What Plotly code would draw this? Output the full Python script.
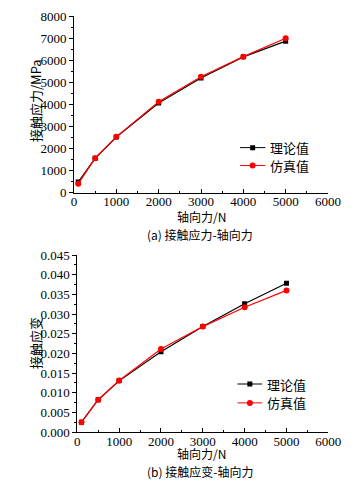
import plotly.graph_objects as go

W, H = 361, 487

force = [100, 500, 1000, 2000, 3000, 4000, 5000]
stress_theory = [480, 1560, 2520, 4060, 5190, 6150, 6860]
stress_sim = [400, 1560, 2530, 4120, 5250, 6160, 6990]
strain_theory = [0.0025, 0.0082, 0.0130, 0.0204, 0.0268, 0.0326, 0.0378]
strain_sim = [0.0025, 0.0082, 0.0131, 0.0211, 0.0268, 0.0317, 0.0360]

name_theory = "理论值"
name_sim = "仿真值"

x_ticks = [0, 1000, 2000, 3000, 4000, 5000, 6000]
y1_ticks = [0, 1000, 2000, 3000, 4000, 5000, 6000, 7000, 8000]
y2_ticks = [0.000, 0.005, 0.010, 0.015, 0.020, 0.025, 0.030, 0.035, 0.040, 0.045]

SERIF = "Liberation Serif, Times New Roman, serif"
CJK = "Noto Sans CJK SC"

fig = go.Figure()
for xa, ya, yt, ys in [("x", "y", stress_theory, stress_sim), ("x2", "y2", strain_theory, strain_sim)]:
    fig.add_trace(go.Scatter(x=force, y=yt, mode="lines+markers", name=name_theory,
                             line=dict(color="black", width=1.2),
                             marker=dict(symbol="square", size=5, color="black"),
                             xaxis=xa, yaxis=ya, showlegend=False))
    fig.add_trace(go.Scatter(x=force, y=ys, mode="lines+markers", name=name_sim,
                             line=dict(color="#ff0000", width=1.2),
                             marker=dict(symbol="circle", size=6, color="#ff0000"),
                             xaxis=xa, yaxis=ya, showlegend=False))

axis_common = dict(showline=True, linecolor="black", linewidth=1, showgrid=False, zeroline=False,
                   tickfont=dict(family=SERIF, size=13, color="black"), ticklen=4, tickcolor="black",
                   mirror=False, automargin=False)

fig.update_layout(
    width=W, height=H, margin=dict(l=0, r=0, t=0, b=0, pad=0),
    paper_bgcolor="white", plot_bgcolor="white", showlegend=False,
    xaxis=dict(domain=[74 / W, 328 / W], range=[0, 6000], tickvals=x_ticks, ticks="inside",
               minor=dict(dtick=500, ticks="inside", ticklen=2, tickcolor="black"),
               ticklabelstandoff=-3, anchor="y", **axis_common),
    yaxis=dict(domain=[1 - 192.7 / H, 1 - 16 / H], range=[0, 8000], tickvals=y1_ticks, ticks="outside",
               minor=dict(dtick=500, ticks="outside", ticklen=2, tickcolor="black"),
               anchor="x", **axis_common),
    xaxis2=dict(domain=[77.3 / W, 328.3 / W], range=[0, 6000], tickvals=x_ticks, ticks="inside",
                minor=dict(dtick=500, ticks="inside", ticklen=2, tickcolor="black"),
                ticklabelstandoff=-3, anchor="y2", **axis_common),
    yaxis2=dict(domain=[1 - 432 / H, 1 - 255 / H], range=[0, 0.045], tickvals=y2_ticks,
                ticktext=[f"{v:.3f}" for v in y2_ticks], ticks="outside",
                minor=dict(dtick=0.0025, ticks="outside", ticklen=2, tickcolor="black"),
                anchor="x2", **axis_common),
)

def add_legend(xref, yref, y_vals, x0, x1):
    xm = (x0 + x1) / 2
    for yv, col, sym, sz, label in [(y_vals[0], "black", "square", 5, name_theory),
                                    (y_vals[1], "#ff0000", "circle", 6, name_sim)]:
        fig.add_trace(go.Scatter(x=[x0, x1], y=[yv, yv], mode="lines",
                                 line=dict(color=col, width=1), xaxis=xref, yaxis=yref,
                                 showlegend=False, hoverinfo="skip"))
        fig.add_trace(go.Scatter(x=[xm], y=[yv], mode="markers",
                                 marker=dict(symbol=sym, size=sz, color=col), xaxis=xref, yaxis=yref,
                                 showlegend=False, hoverinfo="skip"))
        fig.add_annotation(x=x1 + 60, y=yv, xref=xref, yref=yref, text=label, showarrow=False,
                           xanchor="left", yanchor="middle",
                           font=dict(family=CJK, size=13, color="black"))

add_legend("x", "y", [2040, 1230], 3920, 4520)
add_legend("x2", "y2", [0.0122, 0.0074], 3830, 4420)

def label(xp, yp, text, size=13, angle=0):
    fig.add_annotation(x=xp / W, y=1 - yp / H, xref="paper", yref="paper", text=text,
                       showarrow=False, xanchor="center", yanchor="middle", textangle=angle,
                       borderpad=0, font=dict(family=CJK, size=size, color="black"))

label(201, 216.5, "轴向力/N", 12)
label(200, 234, "(a) 接触应力-轴向力", 12)
label(201, 453.5, "轴向力/N", 12)
label(200, 471, "(b) 接触应变-轴向力", 12)
label(35, 101, "接触应力/MPa", 13, -90)
label(35, 343, "接触应变", 13, -90)

fig.write_html("out.html", config={"displayModeBar": False},
               post_script="document.body.style.margin='0';document.body.style.overflow='hidden';")
